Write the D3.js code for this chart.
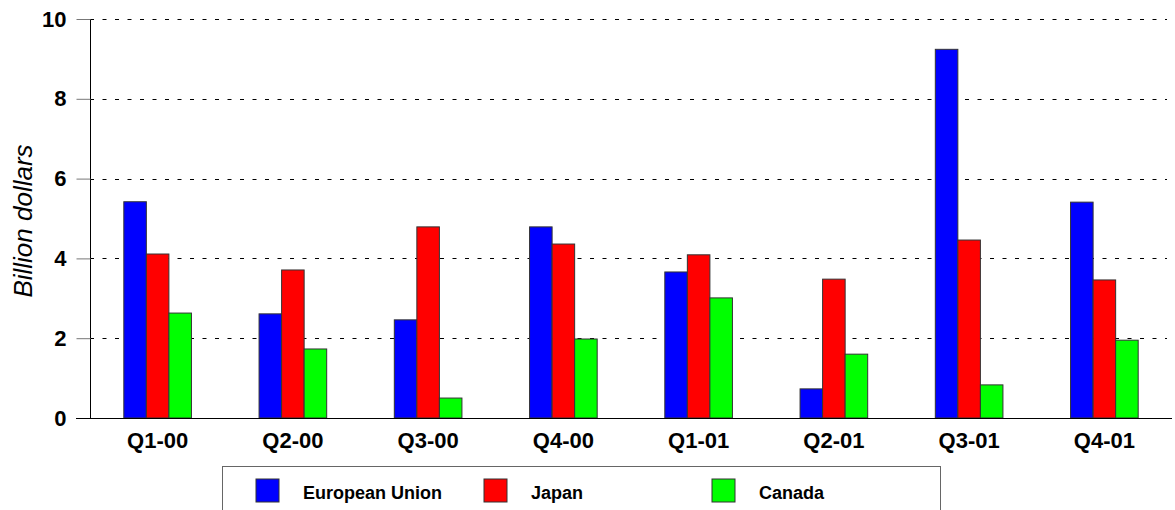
<!DOCTYPE html>
<html>
<head>
<meta charset="utf-8">
<script src="https://cdn.jsdelivr.net/npm/d3@7"></script>
<style>
  html, body { margin: 0; padding: 0; background: #fff; }
  svg { display: block; font-family: Arial, "Liberation Sans", sans-serif; }
</style>
</head>
<body>
<svg id="chart" width="1175" height="510"></svg>
<script>
// Quarterly values, billion dollars
const quarters = ["Q1-00", "Q2-00", "Q3-00", "Q4-00", "Q1-01", "Q2-01", "Q3-01", "Q4-01"];
const seriesNames = ["European Union", "Japan", "Canada"];
const europeanUnion = [5.42, 2.61, 2.46, 4.79, 3.66, 0.73, 9.24, 5.41];
const japan = [4.11, 3.71, 4.79, 4.36, 4.09, 3.48, 4.46, 3.46];
const canada = [2.63, 1.73, 0.50, 1.98, 3.01, 1.60, 0.83, 1.95];
const yTicks = [0, 2, 4, 6, 8, 10];
const colors = ["#0000ff", "#ff0000", "#00ff00"];

const seriesValues = [europeanUnion, japan, canada];

const svg = d3.select("#chart");
const plotLeft = 90, plotRight = 1172, plotTop = 19, plotBottom = 418;

const x = d3.scaleBand().domain(quarters).range([plotLeft, plotRight]).paddingInner(0).paddingOuter(0);
const bw = x.bandwidth();
const xs = d3.scaleBand().domain(seriesNames).range([bw / 4, bw * 3 / 4]).padding(0);
const y = d3.scaleLinear().domain([0, 10]).range([plotBottom, plotTop]);

// dashed gridlines
svg.append("g")
  .selectAll("line")
  .data(yTicks.filter(d => d > 0))
  .join("line")
  .attr("x1", plotLeft).attr("x2", 1167)
  .attr("y1", d => Math.round(y(d)) + 0.5).attr("y2", d => Math.round(y(d)) + 0.5)
  .attr("stroke", "#000").attr("stroke-width", 1)
  .attr("stroke-dasharray", "4,8.5");

// bars
const groups = svg.append("g")
  .selectAll("g")
  .data(quarters)
  .join("g")
  .attr("transform", d => `translate(${x(d)},0)`);

groups.selectAll("rect")
  .data((q, i) => seriesNames.map((s, k) => ({ s, k, v: seriesValues[k][i] })))
  .join("rect")
  .attr("x", d => xs(d.s))
  .attr("width", xs.bandwidth())
  .attr("y", d => y(d.v))
  .attr("height", d => y(0) - y(d.v))
  .attr("fill", d => colors[d.k])
  .attr("stroke", "#333")
  .attr("stroke-width", 1);

// y axis
const yAxis = svg.append("g")
  .attr("transform", `translate(${plotLeft + 0.5},0)`)
  .call(d3.axisLeft(y).tickValues(yTicks).tickSize(14).tickPadding(10));
yAxis.select(".domain").attr("stroke", "#000").attr("d", `M0,${plotTop}V${plotBottom}`);
yAxis.selectAll(".tick line").attr("stroke", "#777");
yAxis.selectAll(".tick text")
  .attr("fill", "#000")
  .style("font-size", "22px")
  .style("font-weight", "bold")
  .style("font-family", "Arial, 'Liberation Sans', sans-serif");

// x axis baseline and category labels
const xAxis = svg.append("g")
  .attr("transform", `translate(0,${plotBottom + 0.5})`)
  .call(d3.axisBottom(x).tickSize(0).tickPadding(14));
xAxis.select(".domain").attr("stroke", "#000").attr("d", `M76,0H${plotRight}`);
xAxis.selectAll(".tick text")
  .attr("fill", "#000")
  .style("font-size", "22px")
  .style("font-weight", "bold")
  .style("font-family", "Arial, 'Liberation Sans', sans-serif");

// y axis title
svg.append("text")
  .attr("transform", `translate(32,221) rotate(-90)`)
  .attr("text-anchor", "middle")
  .style("font-size", "26px")
  .style("font-style", "italic")
  .text("Billion dollars");

// legend
const legend = svg.append("g");
legend.append("rect")
  .attr("x", 222.5).attr("y", 466.5)
  .attr("width", 718).attr("height", 60)
  .attr("fill", "#fff").attr("stroke", "#666");

const legendX = d3.scaleOrdinal().domain(seriesNames).range([256, 484, 712]);
const items = legend.selectAll("g.item")
  .data(seriesNames)
  .join("g")
  .attr("class", "item")
  .attr("transform", d => `translate(${legendX(d)},479)`);
items.append("rect")
  .attr("width", 23).attr("height", 23)
  .attr("fill", (d, i) => colors[i])
  .attr("stroke", "#333");
items.append("text")
  .attr("x", 47).attr("y", 20)
  .style("font-size", "18px")
  .style("font-weight", "bold")
  .text(d => d);
</script>
</body>
</html>
